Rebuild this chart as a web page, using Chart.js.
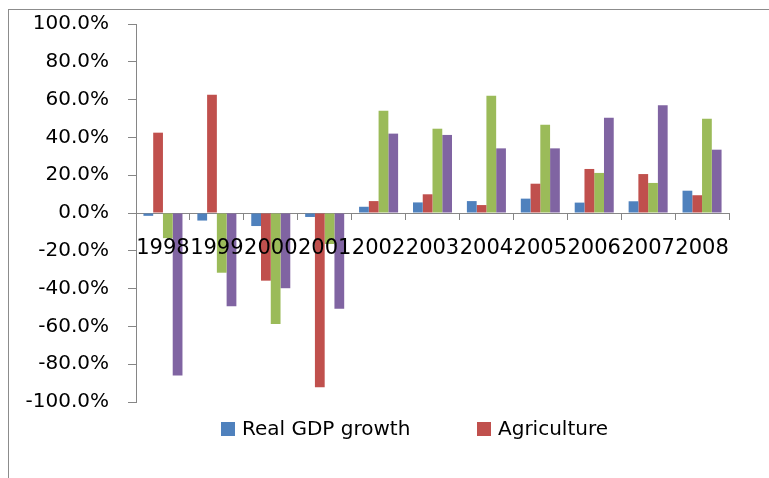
<!DOCTYPE html>
<html>
<head>
<meta charset="utf-8">
<script src="https://cdn.jsdelivr.net/npm/chart.js@4/dist/chart.umd.min.js"></script>
<style>
    body { margin: 0; background: #fff; }
    #contenedor { position: relative; width: 769px; height: 478px; }
    #marco { position: absolute; left: 8px; top: 9px; right: 0; bottom: 0; border-top: 1px solid #8c8c8c; border-left: 1px solid #8c8c8c; }
    .leyenda-item { position: absolute; top: 416px; font-family: 'DejaVu Sans', sans-serif; font-size: 20px; color: #000; white-space: nowrap; }
    .leyenda-item span.caja { display: inline-block; width: 14px; height: 14px; margin-right: 7px; vertical-align: -1px; }
</style>
</head>
<body>
<div id="contenedor">
    <div id="marco"></div>
    <canvas id="grafica"></canvas>
</div>
<script>
const anios = ['1998', '1999', '2000', '2001', '2002', '2003', '2004', '2005', '2006', '2007', '2008'];

const realGdp     = [-1.5, -4.0, -6.9, -2.1, 3.3, 5.6, 6.3, 7.6, 5.5, 6.2, 11.8];
const agricultura = [42.5, 62.6, -35.8, -92.2, 6.3, 9.9, 4.2, 15.5, 23.3, 20.6, 9.4];
const industria   = [-13.3, -31.6, -58.7, -16.4, 54.1, 44.6, 62.1, 46.7, 21.2, 15.9, 49.9];
const servicios   = [-86.0, -49.4, -39.8, -50.6, 42.0, 41.3, 34.2, 34.2, 50.4, 57.0, 33.5];

const nombresSeries = ['Real GDP growth', 'Agriculture', 'Industry', 'Services'];
const colores = ['#4F81BD', '#C0504D', '#9BBB59', '#8064A2'];

// solo las dos primeras entradas de la leyenda se ven en el original
const leyendaVisible = [0, 1];
const leyendaX = [221, 477];

const gris = '#868686';

function crearLeyenda() {
    const contenedor = document.getElementById('contenedor');
    leyendaVisible.forEach((i, n) => {
        const item = document.createElement('div');
        item.className = 'leyenda-item';
        item.style.left = leyendaX[n] + 'px';
        const caja = document.createElement('span');
        caja.className = 'caja';
        caja.style.background = colores[i];
        item.appendChild(caja);
        item.appendChild(document.createTextNode(nombresSeries[i]));
        contenedor.appendChild(item);
    });
}

const series = [realGdp, agricultura, industria, servicios];

new Chart(document.getElementById('grafica'), {
    type: 'bar',
    data: {
        labels: anios,
        datasets: series.map((valores, i) => ({
            label: nombresSeries[i],
            data: valores,
            backgroundColor: colores[i],
            borderWidth: 0,
            categoryPercentage: 0.724,
            barPercentage: 1
        }))
    },
    options: {
        responsive: true,
        maintainAspectRatio: false,
        animation: false,
        layout: { padding: { top: 24, right: 40, bottom: 76, left: 0 } },
        plugins: {
            legend: { display: false },
            tooltip: { enabled: false }
        },
        scales: {
            x: {
                position: { y: 0 },
                offset: true,
                grid: { drawOnChartArea: false, drawTicks: true, tickLength: 6, color: gris, offset: true },
                border: { color: gris, width: 1 },
                ticks: {
                    z: 1, // los años van encima de las barras, como en el original
                    autoSkip: false,
                    maxRotation: 0,
                    minRotation: 0,
                    padding: 17,
                    color: '#000',
                    font: { family: 'DejaVu Sans', size: 21 }
                }
            },
            y: {
                min: -100,
                max: 100,
                afterFit: (escala) => {
                    escala.width = 136;
                    // el padding de las etiquetas no debe empujar el área del gráfico
                    escala.paddingTop = 0;
                    escala.paddingBottom = 0;
                },
                grid: { drawOnChartArea: false, drawTicks: true, tickLength: 8, color: gris },
                border: { color: gris, width: 1 },
                ticks: {
                    stepSize: 20,
                    padding: 19,
                    color: '#000',
                    font: { family: 'DejaVu Sans', size: 20 },
                    callback: (v) => v.toFixed(1) + '%'
                }
            }
        }
    }
});

crearLeyenda();
</script>
</body>
</html>
